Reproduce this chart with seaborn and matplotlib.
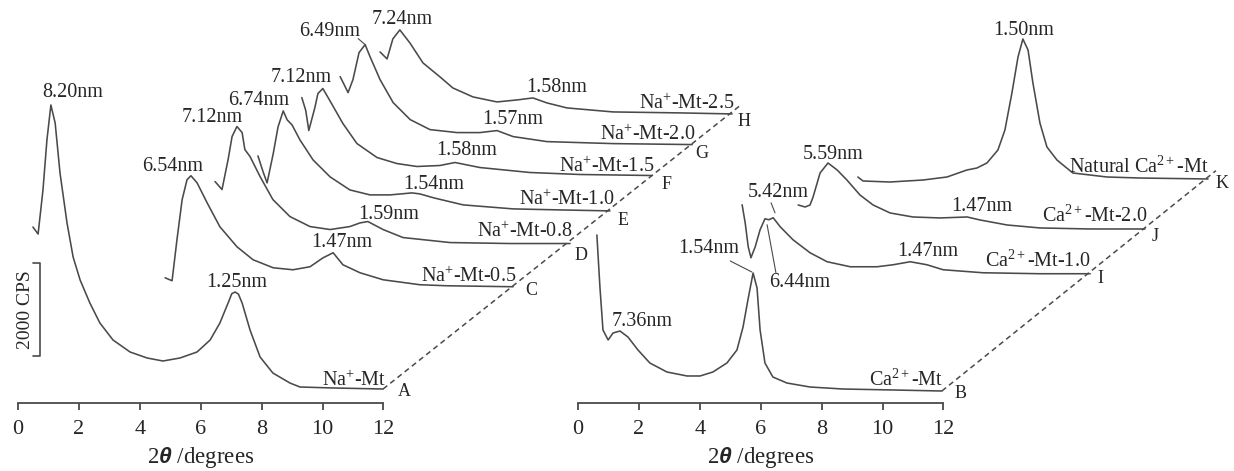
import numpy as np
import pandas as pd
import matplotlib
matplotlib.use("Agg")
import matplotlib.pyplot as plt
import matplotlib.transforms as mtransforms
import seaborn as sns

# ---------------- data: 2theta (degrees) and intensity (CPS) ----------------
# Na+ series (left panel)
na_mt_2theta = [0.49, 0.66, 0.82, 0.95, 1.08, 1.22, 1.38, 1.61, 1.81, 2.04, 2.36, 2.69, 3.12,
                3.68, 4.24, 4.76, 5.32, 5.88, 6.31, 6.63, 6.90, 7.02, 7.13, 7.24, 7.36, 7.62,
                7.95, 8.37, 8.93, 9.26, 10.34, 11.99]
na_mt_cps = [3785, 3634, 4581, 5656, 6409, 6022, 4946, 3871, 3140, 2645, 2151, 1720, 1355,
             1097, 968, 903, 968, 1097, 1355, 1720, 2151, 2350, 2387, 2340, 2151, 1570,
             989, 645, 430, 344, 323, 301]

na05_2theta = [0.56, 0.79, 0.95, 1.12, 1.28, 1.41, 1.61, 1.94, 2.36, 2.92, 3.45, 4.11, 4.76,
               5.32, 5.75, 6.08, 6.40, 6.96, 7.72, 8.93, 9.82, 11.99]
na05_cps = [473, 409, 1290, 2151, 2581, 2667, 2516, 2086, 1570, 1140, 860, 688, 645,
            710, 903, 1011, 753, 581, 430, 323, 301, 280]

na08_2theta = [0.33, 0.56, 0.76, 0.89, 1.05, 1.22, 1.31, 1.48, 1.81, 2.23, 2.79, 3.45, 4.11,
               4.76, 5.09, 5.35, 5.85, 6.50, 8.05, 10.02, 11.99]
na08_cps = [1570, 1398, 2043, 2538, 2753, 2624, 2258, 2108, 1677, 1183, 817, 602, 538,
            602, 680, 710, 538, 366, 258, 237, 237]

na10_2theta = [0.39, 0.56, 0.69, 0.89, 1.05, 1.22, 1.35, 1.51, 1.77, 2.20, 2.76, 3.41, 4.07,
               4.73, 5.45, 5.71, 6.17, 7.13, 8.77, 10.31, 11.95]
na10_cps = [1419, 1075, 839, 1462, 2043, 2387, 2194, 2086, 1763, 1333, 968, 688, 581,
            581, 624, 602, 516, 366, 280, 258, 237]

na15_2theta = [0.49, 0.62, 0.72, 0.92, 1.02, 1.18, 1.41, 1.84, 2.30, 2.96, 3.61, 4.27, 5.02,
               5.52, 6.34, 7.98, 9.62, 11.99]
na15_cps = [1978, 1699, 1269, 1763, 2065, 2172, 1914, 1419, 989, 688, 559, 495, 516,
            581, 473, 366, 323, 301]

na20_2theta = [0.43, 0.69, 0.85, 1.05, 1.25, 1.41, 1.74, 2.17, 2.73, 3.38, 4.27, 5.02, 5.58,
               6.11, 7.22, 9.39, 11.99]
na20_cps = [1742, 1398, 1677, 2258, 2430, 2172, 1677, 1183, 817, 602, 538, 538, 581,
            452, 344, 301, 280]

na25_2theta = [0.43, 0.66, 0.85, 1.08, 1.41, 1.84, 2.40, 2.82, 3.48, 4.27, 4.93, 5.45, 5.91,
               6.57, 8.08, 10.28, 11.99]
na25_cps = [1591, 1441, 1871, 2065, 1785, 1355, 1054, 817, 624, 516, 559, 602, 495,
            387, 301, 280, 258]

# Ca2+ series (right panel)
ca_mt_2theta = [0.62, 0.72, 0.82, 0.99, 1.15, 1.38, 1.64, 1.97, 2.36, 2.92, 3.58, 4.01,
                4.43, 4.89, 5.22, 5.42, 5.58, 5.75, 5.88, 5.98, 6.14, 6.40, 6.86, 7.62, 8.70,
                10.34, 11.95]
ca_mt_cps = [3613, 2495, 1570, 1355, 1505, 1548, 1419, 1140, 860, 667, 581, 581,
             667, 860, 1140, 1634, 2215, 2796, 2473, 1570, 860, 559, 430, 344, 301,
             280, 258]

ca10_2theta = [0.56, 0.66, 0.76, 0.85, 0.99, 1.15, 1.31, 1.44, 1.58, 1.81, 2.23, 2.79, 3.35,
               4.11, 4.99, 5.52, 6.08, 6.63, 7.16, 8.47, 10.34, 11.99]
ca10_cps = [1720, 1333, 817, 581, 817, 1183, 1419, 1398, 1441, 1247, 968, 688, 495,
            387, 387, 430, 495, 430, 323, 258, 237, 237]

ca20_2theta = [0.53, 0.76, 0.92, 1.02, 1.25, 1.51, 1.81, 2.13, 2.56, 2.99, 3.55, 4.30, 5.19,
               6.08, 6.50, 7.39, 8.47, 10.11, 11.92]
ca20_cps = [731, 688, 731, 903, 1419, 1634, 1484, 1269, 946, 731, 559, 473, 452,
            473, 409, 301, 237, 215, 215]

nat_ca_2theta = [0.49, 0.66, 1.54, 2.63, 3.42, 4.07, 4.40, 4.73, 5.09, 5.32, 5.55, 5.75, 5.91,
                 6.08, 6.24, 6.47, 6.70, 7.03, 7.55, 8.67, 9.75, 11.99]
nat_ca_cps = [280, 194, 172, 215, 280, 430, 473, 581, 860, 1290, 2086, 2860, 3247,
              3011, 2301, 1441, 925, 645, 366, 280, 258, 237]

# sample names, end letters and peak labels
left_names = ["Na$^{+}$-Mt", "Na$^{+}$-Mt-0.5", "Na$^{+}$-Mt-0.8", "Na$^{+}$-Mt-1.0",
              "Na$^{+}$-Mt-1.5", "Na$^{+}$-Mt-2.0", "Na$^{+}$-Mt-2.5"]
left_letters = ["A", "C", "D", "E", "F", "G", "H"]
right_names = ["Ca$^{2+}$-Mt", "Ca$^{2+}$-Mt-1.0", "Ca$^{2+}$-Mt-2.0", "Natural Ca$^{2+}$-Mt"]
right_letters = ["B", "I", "J", "K"]

x_ticks = [0, 2, 4, 6, 8, 10, 12]
scale_bar_cps = 2000

# ---------------- layout / style ----------------
W, H = 1234, 471
PX_PER_DEG = 30.45
PX_PER_CPS = 0.0465
AXIS_Y_PX = 403
LINE = "#4a4a4a"
TEXT = "#262626"

# stacking offsets (degrees along the dashed diagonal) and its slope (CPS per degree)
left_shift = [0.0, 4.27, 6.14, 7.49, 8.83, 10.15, 11.46]
right_shift = [0.0, 4.83, 6.70, 8.70]
left_slope = 30.45 * 0.794 / 0.0465
right_slope = 30.45 * 0.804 / 0.0465

# positions inside each pattern's own frame (deg, CPS)
left_letter_pos = [(12.68, 258), (12.58, 194), (12.35, -21), (12.38, 21),
                   (12.48, 107), (12.32, 86), (12.38, 86)]
right_letter_pos = [(12.55, 215), (12.32, 129), (12.25, 43), (12.45, 150)]
left_name_pos = (12.08, 480)
right_name_pos = (12.0, 500)

left_peak_labels = [
    [("8.20nm", 1.81, 6688), ("1.25nm", 7.19, 2581)],
    [("6.54nm", 0.82, 2860), ("1.47nm", 6.37, 1226)],
    [("7.12nm", 0.23, 2946), ("1.59nm", 6.04, 860)],
    [("6.74nm", 0.43, 2602), ("1.54nm", 6.17, 796)],
    [("7.12nm", 0.46, 2409), ("1.58nm", 5.90, 839)],
    [("6.49nm", 0.10, 2710), ("1.57nm", 6.11, 817)],
    [("7.24nm", 1.15, 2280), ("1.58nm", 6.24, 817)],
]
left_leaders = [[], [], [], [], [], [((1.02, 2559), (1.25, 2430))], []]
right_peak_labels = [
    [("7.36nm", 2.10, 1742), ("1.54nm", 4.30, 3312)],
    [("6.44nm", 2.46, 43), ("5.42nm", 1.74, 1978), ("1.47nm", 6.67, 710)],
    [("5.59nm", 1.67, 1806), ("1.47nm", 6.57, 688)],
    [("1.50nm", 5.94, 3441)],
]
right_leaders = [[((5.00, 3054), (5.71, 2817))],
                 [((1.67, 258), (1.38, 1290)), ((1.51, 1763), (1.64, 1548))],
                 [], []]

sns.set_theme(style="white")
plt.rcParams["font.family"] = ["Liberation Serif", "DejaVu Serif"]
plt.rcParams["mathtext.fontset"] = "custom"
plt.rcParams["mathtext.rm"] = "Liberation Serif"
plt.rcParams["mathtext.it"] = "Liberation Serif:italic"
plt.rcParams["mathtext.bf"] = "Liberation Sans:bold:italic"

fig = plt.figure(figsize=(W / 100, H / 100), dpi=100)
fig.patch.set_facecolor("white")


def make_axes():
    ax = fig.add_axes([0, 0, 1, 1])
    ax.patch.set_alpha(0)
    return ax


def finish_axes(ax, zero_px):
    ax.set_xlim(-zero_px / PX_PER_DEG, (W - zero_px) / PX_PER_DEG)
    ax.set_ylim(-(H - AXIS_Y_PX) / PX_PER_CPS, AXIS_Y_PX / PX_PER_CPS)
    for s in ["left", "right", "top"]:
        ax.spines[s].set_visible(False)
    sp = ax.spines["bottom"]
    sp.set_visible(True)
    sp.set_position(("data", 0))
    sp.set_bounds(0, 12)
    sp.set_color(LINE)
    sp.set_linewidth(1.3)
    ax.set_yticks([])
    ax.set_xticks(x_ticks)
    ax.set_xticklabels([str(t) for t in x_ticks])
    ax.tick_params(axis="x", bottom=True, direction="out", length=5, width=1.3,
                   color=LINE, labelsize=16, pad=7.5, labelcolor=TEXT)
    ax.set_ylabel("")
    ax.set_xlabel(r"2$\mathbf{\theta}$ /degrees", fontsize=16.5, color=TEXT, va="center")
    tr = mtransforms.blended_transform_factory(ax.transData, ax.transAxes)
    ax.xaxis.set_label_coords(6, 14 / H, transform=tr)


def draw_panel(ax, xs, ys, shifts, slope, names, name_pos, letters, letter_pos,
               peak_labels, leaders):
    ends = []
    for i, (x, y) in enumerate(zip(xs, ys)):
        dx = shifts[i]
        dy = shifts[i] * slope
        df = pd.DataFrame({"two_theta": np.asarray(x) + dx, "cps": np.asarray(y) + dy})
        sns.lineplot(data=df, x="two_theta", y="cps", ax=ax, color=LINE, lw=1.15,
                     estimator=None, sort=False, legend=False)
        ends.append((x[-1] + dx, y[-1] + dy))
        ax.text(name_pos[0] + dx, name_pos[1] + dy, names[i], ha="right", va="center",
                fontsize=14.5, color=TEXT)
        ax.text(letter_pos[i][0] + dx, letter_pos[i][1] + dy, letters[i], ha="center",
                va="center", fontsize=13, color=TEXT)
        for s, lx, ly in peak_labels[i]:
            ax.text(lx + dx, ly + dy, s, ha="center", va="center", fontsize=14.5, color=TEXT)
        for (x1, y1), (x2, y2) in leaders[i]:
            ax.plot([x1 + dx, x2 + dx], [y1 + dy, y2 + dy], color=LINE, lw=0.8)
    # dashed diagonal through the pattern ends
    x0, y0 = ends[0]
    t_end = shifts[-1] + 0.3
    ax.plot([x0, x0 + t_end], [y0, y0 + t_end * slope], color=LINE, lw=1.1,
            linestyle=(0, (3.5, 2.5)))


# left panel
axL = make_axes()
draw_panel(axL,
           [na_mt_2theta, na05_2theta, na08_2theta, na10_2theta, na15_2theta, na20_2theta, na25_2theta],
           [na_mt_cps, na05_cps, na08_cps, na10_cps, na15_cps, na20_cps, na25_cps],
           left_shift, left_slope, left_names, left_name_pos, left_letters, left_letter_pos,
           left_peak_labels, left_leaders)
# intensity scale bar
bx = 0.72
axL.plot([bx - 0.23, bx, bx, bx - 0.23],
         [1011 + scale_bar_cps, 1011 + scale_bar_cps, 1011, 1011], color=LINE, lw=1.2)
axL.text(0.26, 1011 + scale_bar_cps / 2, f"{scale_bar_cps} CPS", rotation=90,
         ha="center", va="center", fontsize=14, color=TEXT)
finish_axes(axL, 18)

# right panel
axR = make_axes()
draw_panel(axR,
           [ca_mt_2theta, ca10_2theta, ca20_2theta, nat_ca_2theta],
           [ca_mt_cps, ca10_cps, ca20_cps, nat_ca_cps],
           right_shift, right_slope, right_names, right_name_pos, right_letters, right_letter_pos,
           right_peak_labels, right_leaders)
finish_axes(axR, 578)

fig.savefig("out.png", dpi=100, facecolor="white")
